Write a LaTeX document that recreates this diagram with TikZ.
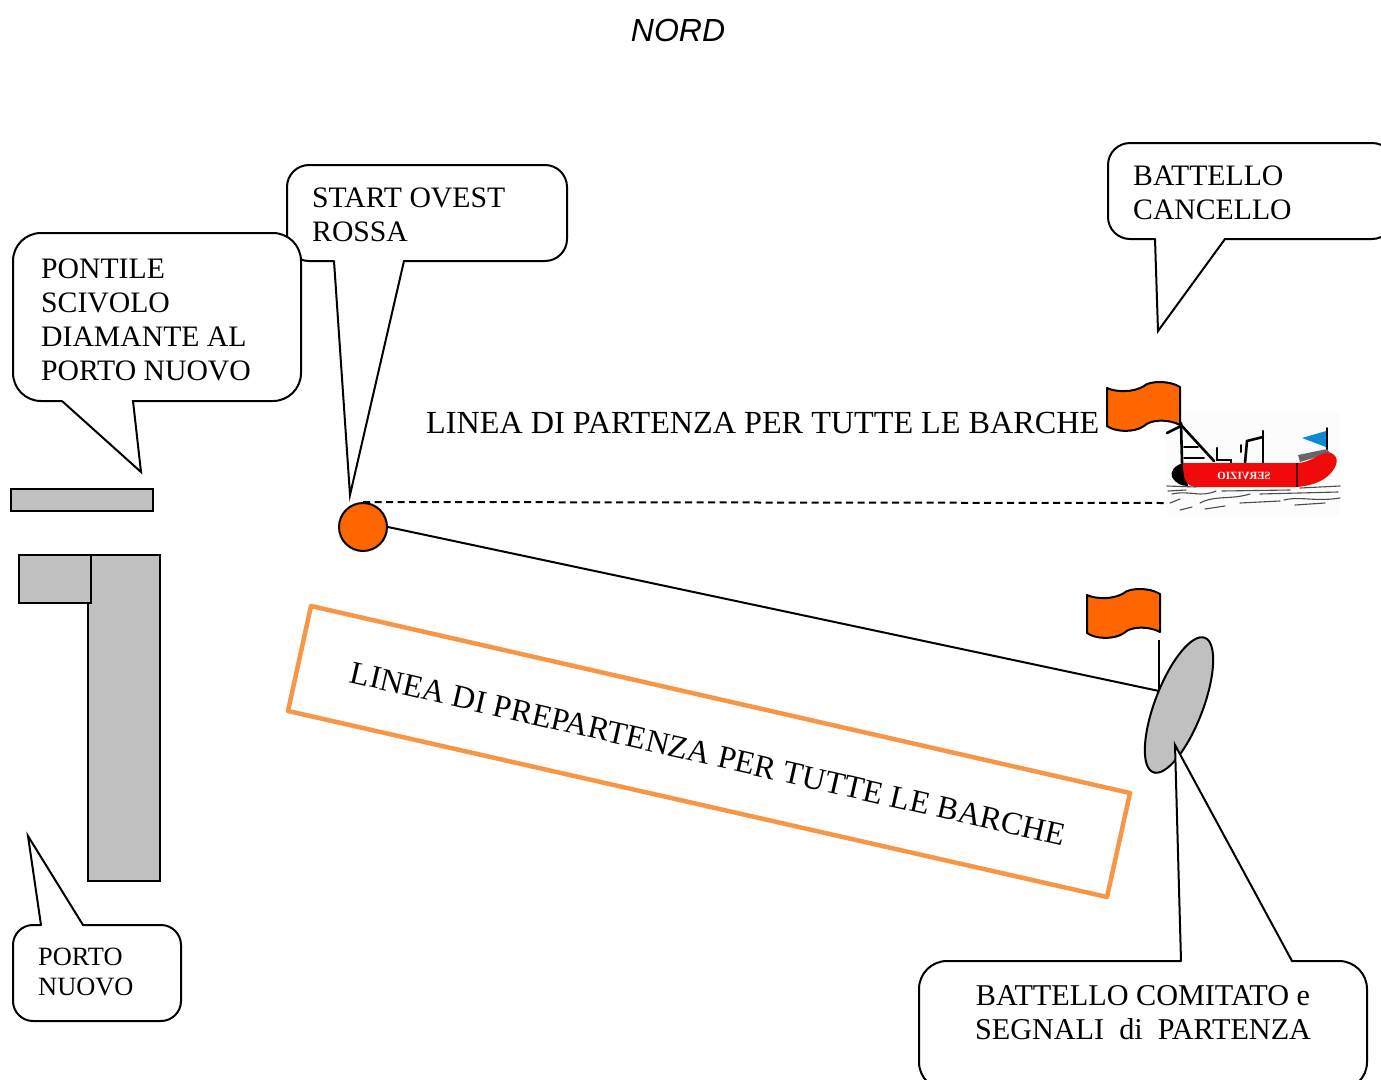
\documentclass[tikz,border=0pt]{standalone}
\usepackage{fontspec}
\setmainfont{Liberation Serif}
\newfontfamily\arialfont{Liberation Sans}
\usetikzlibrary{calc,shapes.geometric}
\definecolor{flagorange}{HTML}{FF6600}
\definecolor{boxorange}{HTML}{F79646}
\definecolor{padgray}{HTML}{C0C0C0}
\definecolor{boatred}{HTML}{F00A0A}
\tikzset{
  bubble/.style={draw=black,fill=white,line width=2pt,line join=miter,line cap=round},
  pad/.style={draw=black,fill=padgray,line width=2pt},
  lbl/.style={font=\fontsize{29.7}{33.8}\selectfont,align=left,anchor=north west,inner sep=0pt},
  lblwide/.style={font=\fontsize{32.2}{34}\selectfont,inner sep=0pt},
  lblc/.style={font=\fontsize{30.2}{34}\selectfont,align=center,inner sep=0pt},
  lblsmall/.style={font=\fontsize{26.4}{30}\selectfont,align=left,anchor=north west,inner sep=0pt},
  flagshape/.style={draw=black,fill=flagorange,line width=2pt,line join=round},
  rig/.style={draw=black,line width=2.6pt,line cap=round},
  wave/.style={draw=black!70,line width=1.1pt,line cap=round},
  link/.style={draw=black,line width=2pt}
}
\newcommand{\flagat}[2]{%
  \draw[flagshape,shift={(#1,#2)}] (0,0) .. controls (8,4) and (26,5) .. (37,-2)
    .. controls (42,-7) and (62,-8) .. (73,-1) -- (73,37)
    .. controls (62,31) and (44,31) .. (37,38)
    .. controls (27,45) and (8,44) .. (0,38) -- cycle;}
\begin{document}
\begin{tikzpicture}[x=1pt,y=-1pt]
\useasboundingbox (0,0) rectangle (1381,1079);
\clip (0,0) rectangle (1381,1079);
\fill[white] (0,0) rectangle (1381,1079);

\node[font=\arialfont\itshape\fontsize{32}{34}\selectfont,inner sep=0pt] (nord) at (678,30) {NORD};

% START OVEST bubble
\draw[bubble] (334,261) -- (350,495) -- (404,261)
  [rounded corners=22pt] -- (567,261) -- (567,165) -- (287,165) -- (287,261) -- (334,261);
\node[lbl] (start) at (312,188) {START OVEST\\ROSSA};

% PONTILE bubble
\draw[bubble] (62,401) -- (141,472) -- (133,401)
  [rounded corners=28pt] -- (301,401) -- (301,233) -- (13,233) -- (13,401) -- (62,401);
\node[lbl] (pontile) at (41,259) {PONTILE\\SCIVOLO\\DIAMANTE AL\\PORTO NUOVO};

% BATTELLO CANCELLO bubble
\draw[bubble] (1155,239) -- (1158,331) -- (1225,239)
  [rounded corners=22pt] -- (1394,239) -- (1394,143) -- (1108,143) -- (1108,239) -- (1155,239);
\node[lbl] (cancello) at (1133,166) {BATTELLO\\CANCELLO};

% PORTO NUOVO bubble
\draw[bubble] (41,925) -- (28,836) -- (83,925)
  [rounded corners=20pt] -- (181,925) -- (181,1021) -- (13,1021) -- (13,925) -- (41,925);
\node[lblsmall] (porto) at (38,948) {PORTO\\NUOVO};

% Piers
\draw[pad] (11,489) rectangle (153,511);
\draw[pad] (88,555) rectangle (160,881);
\draw[pad] (19,555) rectangle (91,603);

% Boat
\fill[white!99!black] (1166,412) rectangle (1340,515);
\draw[rig] (1181,423) -- (1182,463);
\draw[rig] (1181,425) -- (1214,461);
\draw[rig] (1167,433) -- (1181,426);
\draw[rig,line width=1.6pt] (1184,447) -- (1198,447);
\draw[rig,line width=1.6pt] (1184,458) -- (1204,458);
\draw[rig] (1217,448) -- (1217,460) -- (1231,460) -- (1231,464);
\draw[rig] (1263,431) -- (1263,463);
\draw[rig] (1263,437) -- (1247,441) -- (1245,463);
\draw[rig,line width=2pt] (1241,445) -- (1241,452);
\draw[rig,line width=2pt] (1327,428) -- (1327,452);
\fill[cyan!70!blue] (1302,438) -- (1326,431) -- (1326,447) -- cycle;
\fill[black!60] (1298,455) -- (1327,449) -- (1330,453) -- (1300,462) -- cycle;
\fill[black] (1184,463) .. controls (1174,465) and (1170,472) .. (1172,477)
  .. controls (1176,484) and (1182,486) .. (1188,486) -- cycle;
\fill[boatred] (1183,463) -- (1297,463) .. controls (1312,463) and (1322,450) .. (1331,453)
  .. controls (1340,457) and (1337,466) .. (1331,473)
  .. controls (1322,483) and (1308,486) .. (1297,487) -- (1196,487)
  .. controls (1186,486) and (1183,480) .. (1183,463) -- cycle;
\draw[black!70!red,line width=1.2pt] (1297,463) -- (1297,487);
\node[text=white,inner sep=0pt,font=\bfseries\fontsize{11}{11}\selectfont] (servizio) at (1244,476) {\scalebox{-1}[1]{SERVIZIO}};
\draw[wave] (1167,486) -- (1196,487);
\draw[wave] (1300,488) -- (1340,486);
\draw[wave] (1172,494) .. controls (1190,490) and (1200,498) .. (1216,491);
\draw[wave] (1200,503) .. controls (1215,495) and (1230,500) .. (1250,494);
\draw[wave] (1260,494) -- (1338,492);
\draw[wave] (1170,503) -- (1180,499);
\draw[wave] (1284,500) .. controls (1300,496) and (1315,502) .. (1340,498);
\draw[wave] (1205,509) -- (1225,506);
\draw[wave] (1240,503) -- (1280,501);
\draw[wave] (1180,510) -- (1192,507);
\draw[wave] (1222,491) -- (1290,490);
\draw[wave] (1295,505) -- (1325,503);
\draw[wave] (1168,491) -- (1186,490);

% Flags
\flagat{1107}{388}
\flagat{1087}{595}

% Start mark and lines
\coordinate (dashend) at (1166,503);
\coordinate (polebase) at (1159,691);
\coordinate (poletop) at (1159,640);
\node[circle,draw=black,fill=flagorange,line width=2pt,minimum size=48pt,inner sep=0pt] (buoy) at (363,527) {};
\draw[link,dash pattern=on 7pt off 4.5pt] (buoy.north) -- (dashend);
\draw[link] (buoy.east) -- (polebase);

\node[lblwide,anchor=west] (linea) at (426,423) {LINEA DI PARTENZA PER TUTTE LE BARCHE};

% Pre-start box
\draw[draw=boxorange,line width=4.5pt,line join=round] (311,606) -- (1130,793) -- (1107,897) -- (288,711) -- cycle;
\node[lblwide,rotate=-12.9] (pre) at (708,754) {LINEA DI PREPARTENZA PER TUTTE LE BARCHE};

% Committee boat
\draw[link] (poletop) -- (polebase);
\node[ellipse,draw=black,fill=padgray,line width=2pt,minimum width=144pt,minimum height=48pt,inner sep=0pt,rotate=69] (cboat) at (1179,705) {};

% Committee bubble
\draw[bubble] (1181,961) -- (1175,745) -- (1292,961)
  [rounded corners=28pt] -- (1367,961) -- (1367,1090) -- (919,1090) -- (919,961) -- (1181,961);
\node[lblc] (comitato) at (1143,1013) {BATTELLO COMITATO e\\SEGNALI\ \ di\ \ PARTENZA};
\end{tikzpicture}
\end{document}
